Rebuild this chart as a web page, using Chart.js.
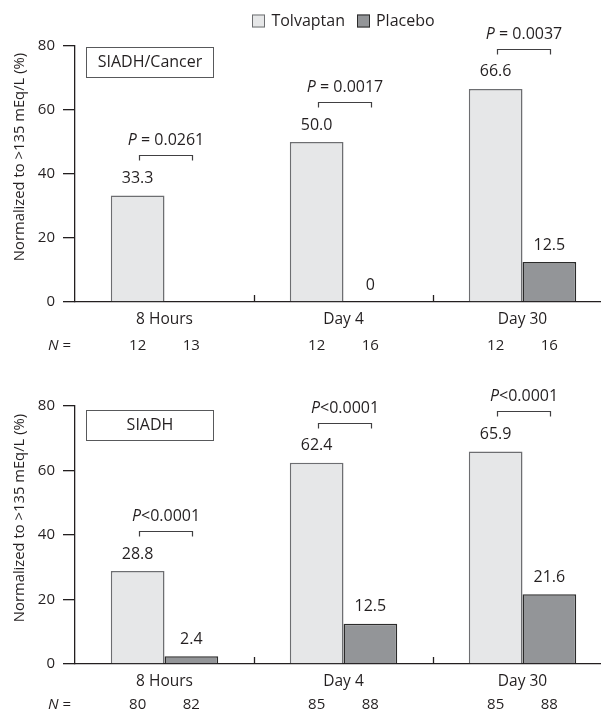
<!DOCTYPE html>
<html>
<head>
<meta charset="utf-8">
<script src="https://cdn.jsdelivr.net/npm/chart.js@4.4.1/dist/chart.umd.min.js"></script>
<style>
  html, body { margin: 0; padding: 0; background: #fff; overflow: hidden; width: 601px; height: 713px; position: relative; }
  canvas { position: absolute; left: 0; display: block; }
  #c1 { top: 0; }
  #c2 { top: 360px; }
</style>
</head>
<body>
<canvas id="c1" width="620" height="360"></canvas>
<canvas id="c2" width="620" height="353"></canvas>
<script>
// Shared axis content
const categories = ['8 Hours', 'Day 4', 'Day 30'];
const seriesNames = ['Tolvaptan', 'Placebo'];
const yTicks = [0, 20, 40, 60, 80];

// SIADH/Cancer subgroup (% normalized to >135 mEq/L)
const cancerTolvaptan = [33.3, 50.0, 66.6];
const cancerPlacebo = [null, 0, 12.5];
const cancerPValues = ['P = 0.0261', 'P = 0.0017', 'P = 0.0037'];
const cancerNTolvaptan = [12, 12, 12];
const cancerNPlacebo = [13, 16, 16];

// SIADH overall
const siadhTolvaptan = [28.8, 62.4, 65.9];
const siadhPlacebo = [2.4, 12.5, 21.6];
const siadhPValues = ['P<0.0001', 'P<0.0001', 'P<0.0001'];
const siadhNTolvaptan = [80, 85, 85];
const siadhNPlacebo = [82, 88, 88];

const INK = '#231f20';
const FAMILY = '"Open Sans", sans-serif';
const FILL_T = '#e6e7e8', EDGE_T = '#6d6e71';
const FILL_P = '#939598', EDGE_P = '#2b2b2b';
const PLOT_RIGHT = 612;

function font(size, italic) {
  return (italic ? 'italic ' : '') + size + 'px ' + FAMILY;
}

// Text with a leading italic letter (P, N) followed by regular text
function drawLeadItalic(ctx, text, x, y, size, align) {
  const head = text.charAt(0), tail = text.slice(1);
  ctx.font = font(size, true);
  const wh = ctx.measureText(head).width;
  ctx.font = font(size, false);
  const wt = ctx.measureText(tail).width;
  let start = align === 'left' ? x : x - (wh + wt) / 2;
  ctx.textAlign = 'left';
  ctx.font = font(size, true);
  ctx.fillText(head, start, y);
  ctx.font = font(size, false);
  ctx.fillText(tail, start + wh, y);
}

const figureMarks = {
  id: 'figureMarks',
  afterDraw(chart) {
    const o = chart.options.plugins.figureMarks;
    const ctx = chart.ctx;
    const xs = chart.scales.x;
    const area = chart.chartArea;
    const mT = chart.getDatasetMeta(0), mP = chart.getDatasetMeta(1);
    const dT = chart.data.datasets[0].data, dP = chart.data.datasets[1].data;
    ctx.save();
    ctx.fillStyle = INK;
    ctx.strokeStyle = INK;
    ctx.textBaseline = 'middle';

    // short upward ticks between categories
    ctx.lineWidth = 1.3;
    for (let i = 0; i < categories.length - 1; i++) {
      const bx = Math.round((xs.getPixelForValue(i) + xs.getPixelForValue(i + 1)) / 2) + 0.5;
      ctx.beginPath();
      ctx.moveTo(bx, area.bottom);
      ctx.lineTo(bx, area.bottom - 7);
      ctx.stroke();
    }

    // value labels, brackets and P values
    for (let i = 0; i < categories.length; i++) {
      const bT = mT.data[i], bP = mP.data[i];
      const tops = [];
      ctx.font = font(16, false);
      ctx.textAlign = 'center';
      ctx.fillStyle = INK;
      if (dT[i] !== null) {
        ctx.fillText(dT[i] === 0 ? '0' : dT[i].toFixed(1), bT.x, bT.y - 17);
        tops.push(bT.y);
      }
      if (dP[i] !== null) {
        ctx.fillText(dP[i] === 0 ? '0' : dP[i].toFixed(1), bP.x, bP.y - 17);
        tops.push(bP.y);
      }
      const by = Math.round(Math.min(...tops) - 40) + 0.5;
      const x1 = Math.round(bT.x) + 1.5, x2 = Math.round(bP.x) + 1.5;
      ctx.strokeStyle = '#414042';
      ctx.lineWidth = 1.2;
      ctx.beginPath();
      ctx.moveTo(x1, by + 5);
      ctx.lineTo(x1, by);
      ctx.lineTo(x2, by);
      ctx.lineTo(x2, by + 5);
      ctx.stroke();
      drawLeadItalic(ctx, o.pValues[i], (x1 + x2) / 2, by - 15, 16, 'center');

      // sample sizes under the category labels
      ctx.textAlign = 'center';
      ctx.font = font(15, false);
      ctx.fillText(String(o.nT[i]), bT.x, area.bottom + o.nRow);
      ctx.fillText(String(o.nP[i]), bP.x, area.bottom + o.nRow);
    }
    drawLeadItalic(ctx, 'N =', 48, area.bottom + o.nRow, 15, 'left');

    // subgroup label box
    ctx.strokeStyle = '#58595b';
    ctx.lineWidth = 1;
    const bx0 = area.left + 11.5, by0 = area.top + o.boxTop + 0.5;
    ctx.strokeRect(bx0, by0, 127, 30);
    ctx.fillStyle = INK;
    ctx.font = font(16, false);
    ctx.textAlign = 'center';
    ctx.fillText(o.group, bx0 + 63.5, by0 + 15);

    // rotated y-axis title
    ctx.save();
    ctx.translate(20, (area.top + area.bottom) / 2 - 17);
    ctx.rotate(-Math.PI / 2);
    ctx.font = font(14.8, false);
    ctx.textAlign = 'center';
    ctx.fillText('Normalized to >135 mEq/L (%)', 0, 0);
    ctx.restore();

    // legend
    if (o.legend) {
      ctx.font = font(16, false);
      const w1 = ctx.measureText(seriesNames[0]).width;
      const w2 = ctx.measureText(seriesNames[1]).width;
      const box = 13, gap = 6, sep = 12;
      const total = box + gap + w1 + sep + box + gap + w2;
      let x = (area.left + area.right) / 2 - total / 2;
      const cy = 21;
      const items = [[FILL_T, EDGE_T, seriesNames[0], w1], [FILL_P, EDGE_P, seriesNames[1], w2]];
      items.forEach(([fill, edge, name, w]) => {
        ctx.fillStyle = fill;
        ctx.fillRect(Math.round(x), cy - box / 2, box, box);
        ctx.strokeStyle = edge;
        ctx.lineWidth = 1;
        ctx.strokeRect(Math.round(x) + 0.5, cy - box / 2 + 0.5, box - 1, box - 1);
        ctx.fillStyle = INK;
        ctx.textAlign = 'left';
        ctx.fillText(name, x + box + gap, cy);
        x += box + gap + w + sep;
      });
    }
    ctx.restore();
  }
};

function buildChart(id, tolv, plac, pValues, nT, nP, group, geo) {
  const canvas = document.getElementById(id);
  return new Chart(canvas, {
    type: 'bar',
    data: {
      labels: categories,
      datasets: [
        { label: seriesNames[0], data: tolv, backgroundColor: FILL_T, borderColor: EDGE_T, borderWidth: 1.5, borderSkipped: 'bottom' },
        { label: seriesNames[1], data: plac, backgroundColor: FILL_P, borderColor: EDGE_P, borderWidth: 1.5, borderSkipped: 'bottom' }
      ]
    },
    options: {
      responsive: false,
      animation: false,
      devicePixelRatio: 1,
      layout: { padding: { top: geo.top, right: canvas.width - PLOT_RIGHT, left: 0, bottom: 0 } },
      datasets: { bar: { categoryPercentage: 0.6, barPercentage: 1.0 } },
      plugins: {
        legend: { display: false },
        tooltip: { enabled: false },
        figureMarks: { pValues, nT, nP, group, legend: geo.legend, nRow: geo.nRow, boxTop: geo.boxTop }
      },
      scales: {
        x: {
          grid: { display: false, drawTicks: false },
          border: { display: true, color: INK, width: 1.3 },
          ticks: { color: INK, font: { family: FAMILY, size: 15.5 }, padding: 8, maxRotation: 0 },
          afterFit(s) { s.height = canvas.height - geo.bottom; }
        },
        y: {
          min: 0, max: 80,
          afterBuildTicks(s) { s.ticks = yTicks.map(v => ({ value: v })); },
          ticks: { color: INK, font: { family: FAMILY, size: 15 }, padding: 8 },
          grid: { drawOnChartArea: false, drawTicks: true, tickLength: 12, color: INK, lineWidth: 1.3 },
          border: { display: true, color: INK, width: 1.3 },
          afterFit(s) { s.width = 75; }
        }
      }
    },
    plugins: [figureMarks]
  });
}

buildChart('c1', cancerTolvaptan, cancerPlacebo, cancerPValues, cancerNTolvaptan, cancerNPlacebo,
  'SIADH/Cancer', { top: 46, bottom: 302, nRow: 44, boxTop: 1, legend: true });
buildChart('c2', siadhTolvaptan, siadhPlacebo, siadhPValues, siadhNTolvaptan, siadhNPlacebo,
  'SIADH', { top: 46, bottom: 304, nRow: 41, boxTop: 4, legend: false });
</script>
</body>
</html>
